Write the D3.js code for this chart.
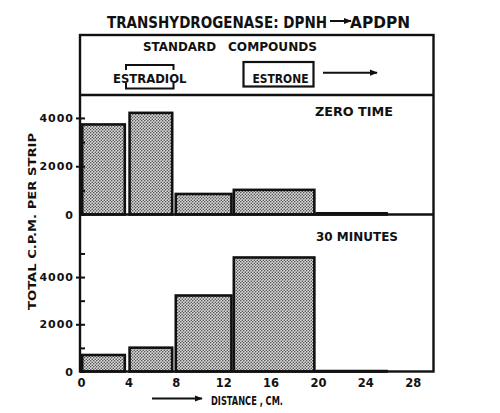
<!DOCTYPE html>
<html><head><meta charset="utf-8">
<script src="https://cdn.jsdelivr.net/npm/d3@7"></script>
<style>
html,body{margin:0;padding:0;background:#fff;}
text{font-family:"DejaVu Sans",sans-serif;font-weight:bold;fill:#111;}
</style></head>
<body>
<svg id="c" width="500" height="413"></svg>
<script>
// ---- data ----
const xTicks = [0, 4, 8, 12, 16, 20, 24, 28];
const binStart = [0, 4, 7.9, 12.8, 19.8];
const binEnd = [3.8, 7.8, 12.8, 19.8, 25.9];
const zeroTime = [3780, 4260, 900, 1070, 100];
const thirtyMin = [750, 1060, 3270, 4880, 70];
const zeroTicks = [0, 1000, 2000, 3000, 4000];
const zeroLabels = [0, 2000, 4000];
const thirtyTicks = [0, 1000, 2000, 3000, 4000, 5000];
const thirtyLabels = [0, 2000, 4000];
const title1 = "TRANSHYDROGENASE: DPNH";
const title2 = "APDPN";
const standardsWords = ["STANDARD", "COMPOUNDS"];
const compounds = ["ESTRADIOL", "ESTRONE"];
const panelLabels = ["ZERO TIME", "30 MINUTES"];
const yLabel = "TOTAL C.P.M. PER STRIP";
const xLabel = "DISTANCE , CM.";

const svg = d3.select("#c");
const L = 80, R = 433.5, T = 35, D1 = 95, D2 = 214.5, B = 371.5;

const x = d3.scaleLinear().domain([0, 29.8]).range([81, 434]);
const y0 = d3.scaleLinear().domain([0, 4950]).range([D2, D1]);
const y1 = d3.scaleLinear().domain([0, 6650]).range([B, D2]);

// stipple pattern (staggered dot screen)
const defs = svg.append("defs");
const pat = defs.append("pattern").attr("id", "stip").attr("patternUnits", "userSpaceOnUse")
  .attr("width", 3).attr("height", 3);
pat.append("rect").attr("width", 3).attr("height", 3).attr("fill", "#dcdcdc");
[[0.75, 0.75, 0.75], [2.25, 2.25, 0.75]].forEach(([cx, cy, r]) =>
  pat.append("circle").attr("cx", cx).attr("cy", cy).attr("r", r).attr("fill", "#3a3a3a"));

const arrowM = defs.append("marker").attr("id", "ah").attr("viewBox", "0 0 10 10")
  .attr("refX", 9).attr("refY", 5).attr("markerWidth", 4).attr("markerHeight", 4)
  .attr("orient", "auto").attr("markerUnits", "strokeWidth");
arrowM.append("path").attr("d", "M0,1 L10,5 L0,9 Z").attr("fill", "#111");

// title
svg.append("text").attr("x", 107).attr("y", 27.5).attr("font-size", 15)
  .attr("textLength", 220).attr("lengthAdjust", "spacingAndGlyphs").text(title1);
svg.append("line").attr("x1", 330).attr("x2", 351).attr("y1", 21).attr("y2", 21)
  .attr("stroke", "#111").attr("stroke-width", 2).attr("marker-end", "url(#ah)");
svg.append("text").attr("x", 350).attr("y", 27.5).attr("font-size", 15)
  .attr("textLength", 60).attr("lengthAdjust", "spacingAndGlyphs").text(title2);

// bars
function drawBars(vals, ys) {
  svg.append("g").selectAll("rect").data(vals).join("rect")
    .attr("x", (d, i) => x(binStart[i]) + 1.2)
    .attr("width", (d, i) => x(binEnd[i]) - x(binStart[i]) - 2.4)
    .attr("y", d => ys(d) + 1.2)
    .attr("height", d => Math.max(0.5, ys(0) - ys(d) - 1.2))
    .attr("fill", "url(#stip)").attr("stroke", "#111").attr("stroke-width", 2.6);
}
drawBars(zeroTime, y0);
drawBars(thirtyMin, y1);

// frame
const frame = svg.append("g").attr("stroke", "#111").attr("fill", "none").attr("stroke-width", 2.4);
frame.append("rect").attr("x", L).attr("y", T).attr("width", R - L).attr("height", B - T);
frame.append("line").attr("x1", L).attr("x2", R).attr("y1", D1).attr("y2", D1);
frame.append("line").attr("x1", L).attr("x2", R).attr("y1", D2).attr("y2", D2);

// y axes
function yAxis(scale, ticks, labels) {
  const g = svg.append("g").attr("transform", `translate(${L},0)`)
    .call(d3.axisLeft(scale).tickValues(ticks).tickSize(-5).tickPadding(6)
      .tickFormat(d => labels.includes(d) ? d : ""));
  g.select(".domain").remove();
  g.selectAll(".tick line").attr("stroke", "#111").attr("stroke-width", 2);
  g.selectAll(".tick text").attr("font-size", 11).attr("font-family", "DejaVu Sans")
    .attr("font-weight", "bold").attr("fill", "#111").attr("letter-spacing", 1);
  g.selectAll(".tick").filter(d => labels.includes(d) && d !== 0).append("line")
    .attr("x1", -4).attr("x2", 0).attr("stroke", "#111").attr("stroke-width", 2);
}
yAxis(y0, zeroTicks, zeroLabels);
yAxis(y1, thirtyTicks, thirtyLabels);

// x axis
const gx = svg.append("g").attr("transform", `translate(0,${B})`)
  .call(d3.axisBottom(x).tickValues(xTicks).tickSize(0).tickPadding(7));
gx.select(".domain").remove();
gx.selectAll(".tick text").attr("font-size", 11.5).attr("font-family", "DejaVu Sans")
  .attr("font-weight", "bold").attr("fill", "#111");

// x label
svg.append("line").attr("x1", 152).attr("x2", 202).attr("y1", 398.5).attr("y2", 398.5)
  .attr("stroke", "#111").attr("stroke-width", 2).attr("marker-end", "url(#ah)");
svg.append("text").attr("x", 211).attr("y", 404.5).attr("font-size", 13)
  .attr("textLength", 72).attr("lengthAdjust", "spacingAndGlyphs").text(xLabel);

// y label
svg.append("text").attr("transform", "translate(36,221.5) rotate(-90)").attr("text-anchor", "middle")
  .attr("font-size", 11).attr("textLength", 177).attr("lengthAdjust", "spacingAndGlyphs").text(yLabel);

// panel labels
svg.append("text").attr("x", 315).attr("y", 115.5).attr("font-size", 12.5)
  .attr("textLength", 78).attr("lengthAdjust", "spacingAndGlyphs").text(panelLabels[0]);
svg.append("text").attr("x", 316).attr("y", 240.5).attr("font-size", 12.5)
  .attr("textLength", 82).attr("lengthAdjust", "spacingAndGlyphs").text(panelLabels[1]);

// standard compounds
svg.append("text").attr("x", 143).attr("y", 50.5).attr("font-size", 11.5).style("font-weight", "600")
  .attr("textLength", 73).attr("lengthAdjust", "spacingAndGlyphs").text(standardsWords[0]);
svg.append("text").attr("x", 228).attr("y", 50.5).attr("font-size", 11.5).style("font-weight", "600")
  .attr("textLength", 89).attr("lengthAdjust", "spacingAndGlyphs").text(standardsWords[1]);

// estradiol bracket
const br = svg.append("g").attr("stroke", "#111").attr("fill", "none").attr("stroke-width", 2);
br.append("path").attr("d", "M126,70 L126,65 L173.5,65 L173.5,70");
br.append("path").attr("d", "M126,83 L126,88.5 L173.5,88.5 L173.5,83");
svg.append("text").attr("x", 113).attr("y", 83).attr("font-size", 12)
  .attr("textLength", 73.5).attr("lengthAdjust", "spacingAndGlyphs").text(compounds[0]);

// estrone box
svg.append("rect").attr("x", 243.5).attr("y", 62).attr("width", 70).attr("height", 24.5)
  .attr("fill", "none").attr("stroke", "#111").attr("stroke-width", 2.2);
svg.append("text").attr("x", 252.5).attr("y", 82.5).attr("font-size", 12)
  .attr("textLength", 56).attr("lengthAdjust", "spacingAndGlyphs").text(compounds[1]);
svg.append("line").attr("x1", 323).attr("x2", 377).attr("y1", 72.7).attr("y2", 72.7)
  .attr("stroke", "#111").attr("stroke-width", 2).attr("marker-end", "url(#ah)");
</script>
</body></html>
